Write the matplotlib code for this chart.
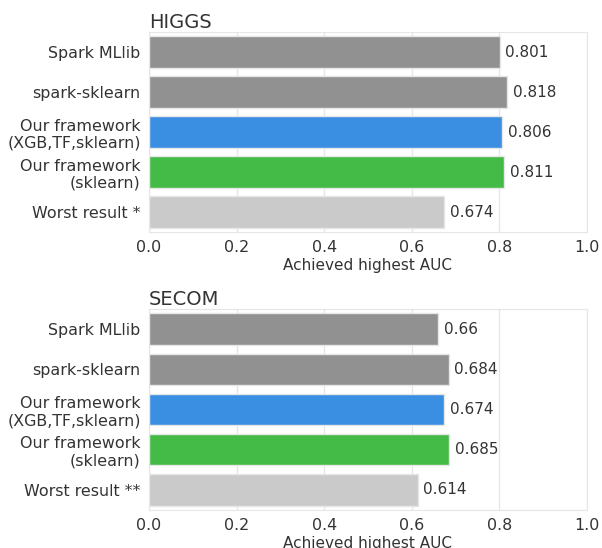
import matplotlib
matplotlib.use("Agg")
import matplotlib.pyplot as plt
import seaborn as sns

sns.set_style("whitegrid")
plt.rcParams["font.family"] = ["DejaVu Sans"]

labels = [
    "Spark MLlib",
    "spark-sklearn",
    "Our framework\n(XGB,TF,sklearn)",
    "Our framework\n(sklearn)",
]
higgs_auc = [0.801, 0.818, 0.806, 0.811, 0.674]
secom_auc = [0.66, 0.684, 0.674, 0.685, 0.614]
higgs_labels = labels + ["Worst result *"]
secom_labels = labels + ["Worst result **"]
colors = ["#919191", "#919191", "#3a8fe3", "#44bb46", "#cacaca"]
ticks = [0.0, 0.2, 0.4, 0.6, 0.8, 1.0]
text_color = "#333333"

fig = plt.figure(figsize=(6.02, 5.48), dpi=100)
ax1 = fig.add_axes([0.2475, 0.5766, 0.7275, 0.365])
ax2 = fig.add_axes([0.2475, 0.0693, 0.7275, 0.3667])

for ax, vals, names, title in [
    (ax1, higgs_auc, higgs_labels, "HIGGS"),
    (ax2, secom_auc, secom_labels, "SECOM"),
]:
    y = list(range(len(vals)))
    ax.barh(y, vals, height=0.78, color=colors, edgecolor="#e6e6e6", linewidth=1)
    for yi, v in zip(y, vals):
        ax.annotate(str(v), (v, yi), xytext=(4, 0), textcoords="offset points",
                    va="center", ha="left", fontsize=11, color=text_color)
    ax.set_yticks(y)
    ax.set_yticklabels(names, fontsize=11.4, color=text_color)
    ax.set_ylim(len(vals) - 0.5, -0.5)
    ax.set_xlim(0, 1.0)
    ax.set_xticks(ticks)
    ax.set_xticklabels([f"{t:.1f}" for t in ticks], fontsize=11.4, color=text_color)
    ax.grid(axis="y", visible=False)
    ax.grid(axis="x", color="#e6e6e6", linewidth=1)
    for s in ax.spines.values():
        s.set_color("#e6e6e6")
    ax.tick_params(axis="both", length=0, pad=6)
    ax.set_xlabel("Achieved highest AUC", fontsize=11, color=text_color, labelpad=2)
    ax.set_title(title, loc="left", fontsize=14, color=text_color, pad=3)

fig.savefig("out.png", dpi=100)
